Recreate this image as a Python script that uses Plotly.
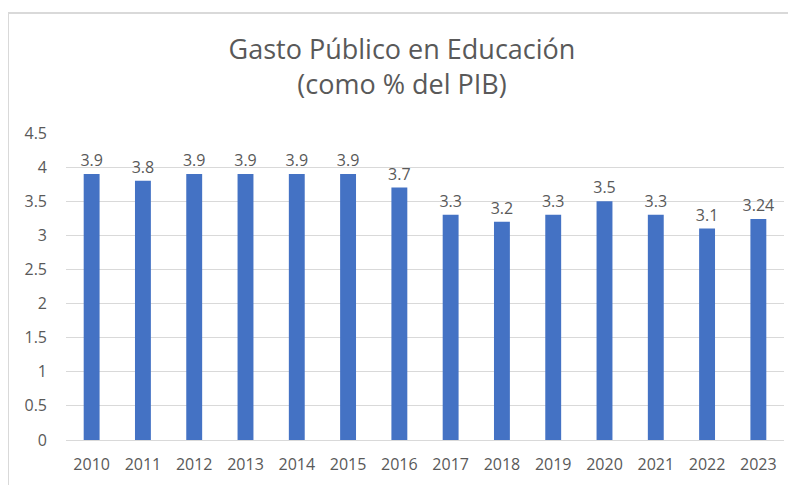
import plotly.graph_objects as go

years = ["2010", "2011", "2012", "2013", "2014", "2015", "2016",
         "2017", "2018", "2019", "2020", "2021", "2022", "2023"]
gasto = [3.9, 3.8, 3.9, 3.9, 3.9, 3.9, 3.7, 3.3, 3.2, 3.3, 3.5, 3.3, 3.1, 3.24]
labels = ["3.9", "3.8", "3.9", "3.9", "3.9", "3.9", "3.7",
          "3.3", "3.2", "3.3", "3.5", "3.3", "3.1", "3.24"]

grey = "#595959"
font_family = "Open Sans, Noto Sans, sans-serif"

fig = go.Figure(
    go.Bar(
        x=years,
        y=gasto,
        text=labels,
        textposition="outside",
        constraintext="none",
        textfont=dict(size=16, color=grey),
        marker=dict(color="#4472C4", line=dict(width=0)),
        cliponaxis=False,
    )
)

# the page body has an 8px margin, so the figure is 8px smaller each way
# plot area in page px: x 66..784, y 133..440 -> figure px minus 8
W, H = 788, 477
ml, mr, mt, mb = 58, 12, 125, 45
pw, ph = W - ml - mr, H - mt - mb

def px_x(p):
    return (p - ml) / pw

def px_y(p):
    return (H - mb - p) / ph

fig.update_layout(
    width=W,
    height=H,
    margin=dict(l=ml, r=mr, t=mt, b=mb, autoexpand=False),
    paper_bgcolor="white",
    plot_bgcolor="white",
    font=dict(family=font_family, color=grey),
    bargap=0.69,
    showlegend=False,
    title=dict(
        text="Gasto Público en Educación<br>(como % del PIB)",
        x=0.5,
        xanchor="center",
        y=1 - 51 / H,
        yanchor="top",
        font=dict(size=27, color=grey, family=font_family),
    ),
    xaxis=dict(
        type="category",
        automargin=False,
        showgrid=False,
        showline=True,
        linecolor="#d9d9d9",
        linewidth=1,
        ticks="",
        ticklabelstandoff=10,
        tickfont=dict(size=16, color=grey),
    ),
    yaxis=dict(
        range=[0, 4.5],
        dtick=0.5,
        tickformat="~g",
        automargin=False,
        showgrid=True,
        gridcolor="#d9d9d9",
        gridwidth=1,
        zeroline=False,
        ticks="",
        ticklabelstandoff=18,
        tickfont=dict(size=16, color=grey),
    ),
    shapes=[
        dict(type="line", xref="paper", yref="paper",
             x0=px_x(0), x1=px_x(0), y0=px_y(5), y1=px_y(H + 5),
             line=dict(color="#d9d9d9", width=2)),
        dict(type="line", xref="paper", yref="paper",
             x0=px_x(0), x1=px_x(W + 5), y0=px_y(5), y1=px_y(5),
             line=dict(color="#d9d9d9", width=2)),
    ],
)

fig.write_html("out.html")
